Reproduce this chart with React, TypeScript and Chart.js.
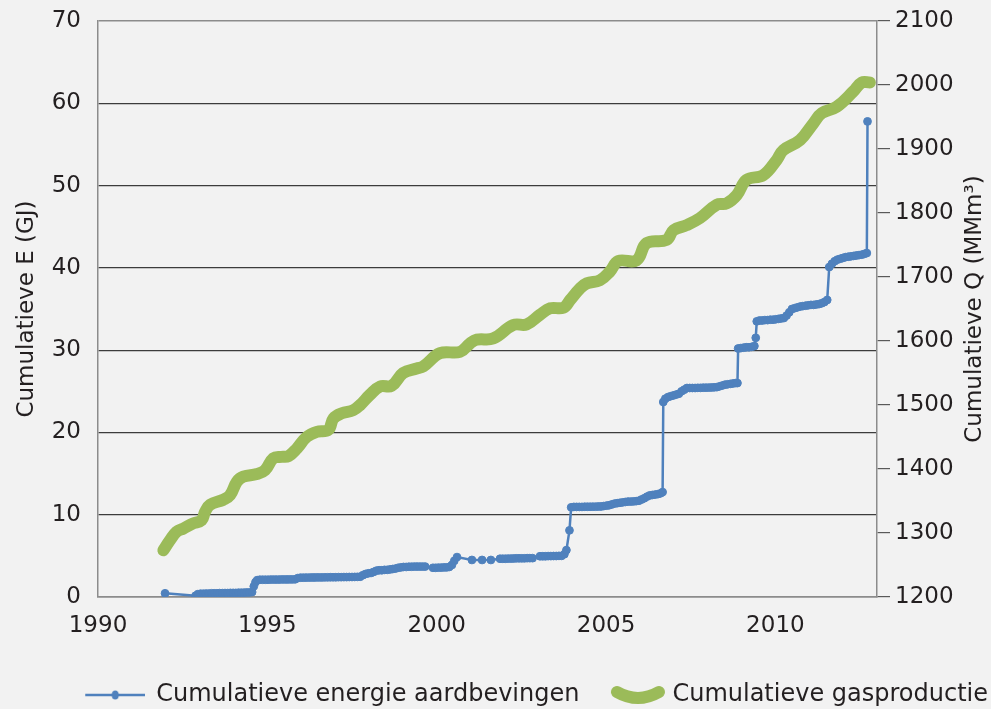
import React, { useEffect, useRef } from 'react';
import { Chart, registerables } from 'chart.js';

Chart.register(...registerables);

// ---- data ----
const gasYears = [
  1991.93, 1992.13, 1992.32, 1992.52, 1992.81, 1993.06, 1993.16, 1993.31, 1993.70, 1993.90,
  1994.10, 1994.29, 1994.69, 1994.93, 1995.18, 1995.42, 1995.62, 1995.87, 1996.16, 1996.46,
  1996.80, 1996.95, 1997.20, 1997.54, 1997.74, 1998.03, 1998.33, 1998.67, 1999.01, 1999.41,
  1999.60, 2000.10, 2000.69, 2000.98, 2001.18, 2001.67, 2002.26, 2002.66, 2003.05, 2003.35,
  2003.74, 2003.94, 2004.23, 2004.43, 2004.82, 2005.12, 2005.36, 2005.90, 2006.20, 2006.79,
  2006.99, 2007.38, 2007.77, 2008.27, 2008.56, 2008.86, 2009.15, 2009.64, 2010.04, 2010.23,
  2010.73, 2011.12, 2011.37, 2011.81, 2012.30, 2012.55, 2012.79,
];
const gasValues = [
  1273, 1289, 1302, 1307, 1315, 1320, 1333, 1344, 1352, 1359,
  1380, 1388, 1392, 1398, 1417, 1419, 1420, 1432, 1450, 1458,
  1461, 1479, 1487, 1492, 1500, 1516, 1529, 1530, 1550, 1557,
  1560, 1581, 1583, 1596, 1602, 1604, 1625, 1626, 1641, 1651,
  1652, 1664, 1682, 1690, 1695, 1709, 1725, 1726, 1753, 1758,
  1773, 1781, 1792, 1813, 1815, 1828, 1852, 1859, 1883, 1898,
  1914, 1940, 1956, 1966, 1990, 2004, 2004,
];

const quakeYears = [
  1991.98, 1992.88, 1992.95, 1993.03, 1993.11, 1993.19, 1993.27, 1993.35, 1993.43, 1993.51,
  1993.59, 1993.67, 1993.75, 1993.83, 1993.91, 1993.99, 1994.07, 1994.15, 1994.23, 1994.31,
  1994.39, 1994.47, 1994.55, 1994.60, 1994.65, 1994.70, 1994.78, 1994.86, 1994.94, 1995.02,
  1995.10, 1995.18, 1995.26, 1995.34, 1995.42, 1995.50, 1995.58, 1995.66, 1995.74, 1995.82,
  1995.90, 1995.98, 1996.06, 1996.14, 1996.22, 1996.30, 1996.38, 1996.46, 1996.54, 1996.62,
  1996.70, 1996.78, 1996.86, 1996.94, 1997.02, 1997.10, 1997.18, 1997.26, 1997.34, 1997.42,
  1997.50, 1997.58, 1997.66, 1997.74, 1997.82, 1997.90, 1997.98, 1998.06, 1998.14, 1998.22,
  1998.30, 1998.38, 1998.46, 1998.54, 1998.62, 1998.70, 1998.78, 1998.86, 1998.94, 1999.02,
  1999.10, 1999.18, 1999.26, 1999.34, 1999.42, 1999.50, 1999.58, 1999.66, 1999.89, 1999.97,
  2000.05, 2000.13, 2000.21, 2000.29, 2000.37, 2000.45, 2000.52, 2000.60, 2001.04, 2001.34,
  2001.60, 2001.87, 2001.95, 2002.03, 2002.11, 2002.19, 2002.27, 2002.35, 2002.43, 2002.51,
  2002.59, 2002.67, 2002.75, 2002.83, 2003.05, 2003.13, 2003.21, 2003.29, 2003.37, 2003.45,
  2003.53, 2003.61, 2003.69, 2003.77, 2003.83, 2003.92, 2003.97, 2004.05, 2004.13, 2004.21,
  2004.29, 2004.37, 2004.45, 2004.53, 2004.61, 2004.69, 2004.77, 2004.85, 2004.93, 2005.01,
  2005.09, 2005.17, 2005.25, 2005.33, 2005.41, 2005.49, 2005.57, 2005.65, 2005.73, 2005.81,
  2005.89, 2005.97, 2006.05, 2006.13, 2006.21, 2006.29, 2006.37, 2006.45, 2006.53, 2006.61,
  2006.67, 2006.69, 2006.75, 2006.83, 2006.91, 2006.99, 2007.07, 2007.15, 2007.23, 2007.31,
  2007.39, 2007.47, 2007.55, 2007.63, 2007.71, 2007.79, 2007.87, 2007.95, 2008.03, 2008.11,
  2008.19, 2008.27, 2008.35, 2008.43, 2008.51, 2008.59, 2008.67, 2008.75, 2008.83, 2008.88,
  2008.90, 2008.98, 2009.06, 2009.14, 2009.22, 2009.30, 2009.38, 2009.42, 2009.45, 2009.53,
  2009.61, 2009.69, 2009.77, 2009.85, 2009.93, 2010.01, 2010.09, 2010.17, 2010.25, 2010.33,
  2010.41, 2010.49, 2010.57, 2010.65, 2010.73, 2010.81, 2010.89, 2010.97, 2011.05, 2011.13,
  2011.21, 2011.29, 2011.37, 2011.45, 2011.53, 2011.59, 2011.67, 2011.75, 2011.83, 2011.91,
  2011.99, 2012.07, 2012.15, 2012.23, 2012.31, 2012.39, 2012.47, 2012.55, 2012.63, 2012.70,
  2012.72,
];
const quakeEnergy = [
  0.45, 0.15, 0.35, 0.40, 0.40, 0.42, 0.42, 0.45, 0.45, 0.45,
  0.47, 0.47, 0.48, 0.48, 0.50, 0.50, 0.50, 0.52, 0.52, 0.53,
  0.55, 0.55, 0.60, 1.30, 1.80, 2.05, 2.10, 2.10, 2.10, 2.10,
  2.12, 2.12, 2.12, 2.12, 2.13, 2.13, 2.13, 2.14, 2.14, 2.15,
  2.30, 2.35, 2.35, 2.36, 2.36, 2.37, 2.37, 2.38, 2.38, 2.38,
  2.39, 2.39, 2.40, 2.40, 2.40, 2.41, 2.41, 2.42, 2.42, 2.43,
  2.43, 2.44, 2.45, 2.46, 2.65, 2.80, 2.88, 2.92, 3.05, 3.20,
  3.25, 3.25, 3.30, 3.30, 3.35, 3.40, 3.45, 3.55, 3.60, 3.65,
  3.65, 3.68, 3.68, 3.70, 3.70, 3.70, 3.70, 3.70, 3.55, 3.55,
  3.57, 3.57, 3.60, 3.60, 3.65, 3.90, 4.40, 4.85, 4.50, 4.50,
  4.50, 4.65, 4.65, 4.65, 4.67, 4.67, 4.68, 4.70, 4.70, 4.70,
  4.70, 4.72, 4.72, 4.72, 4.95, 4.95, 4.95, 4.97, 4.97, 4.98,
  4.98, 5.00, 5.00, 5.20, 5.70, 8.10, 10.90, 10.95, 10.95, 10.95,
  10.95, 10.97, 10.97, 10.97, 10.98, 10.98, 11.00, 11.00, 11.05, 11.10,
  11.15, 11.25, 11.35, 11.40, 11.45, 11.50, 11.55, 11.60, 11.60, 11.62,
  11.65, 11.70, 11.85, 12.00, 12.20, 12.35, 12.40, 12.45, 12.50, 12.60,
  12.75, 23.70, 24.10, 24.30, 24.40, 24.50, 24.60, 24.70, 25.00, 25.20,
  25.40, 25.40, 25.40, 25.40, 25.42, 25.42, 25.44, 25.44, 25.45, 25.46,
  25.48, 25.50, 25.60, 25.70, 25.80, 25.85, 25.90, 25.95, 26.00, 26.00,
  30.20, 30.25, 30.30, 30.35, 30.35, 30.40, 30.50, 31.50, 33.50, 33.60,
  33.60, 33.65, 33.65, 33.70, 33.70, 33.75, 33.80, 33.85, 33.90, 34.20,
  34.60, 35.00, 35.10, 35.20, 35.30, 35.35, 35.40, 35.45, 35.50, 35.50,
  35.55, 35.60, 35.70, 35.85, 36.10, 40.10, 40.50, 40.80, 41.00, 41.10,
  41.20, 41.30, 41.35, 41.40, 41.45, 41.50, 41.55, 41.60, 41.70, 41.80,
  57.80,
];

const xTickValues = [1990, 1995, 2000, 2005, 2010];
const seriesNames = ['Cumulatieve energie aardbevingen', 'Cumulatieve gasproductie'];
const leftTitle = 'Cumulatieve E (GJ)';
const rightTitle = 'Cumulatieve Q (MMm\u00B3)';

// ---- style ----
const FONT = "'DejaVu Sans', Verdana, sans-serif";
const FS = 23;
const LFS = 24;
const TEXT = '#231f20';
const BLUE = '#4f81bd';
const GREEN = '#9bbb59';
const FRAME = '#8c8c8c';
const GRID = '#3c3c3c';
const BG = '#f2f2f2';

function makeSymbol(w: number, h: number, offset: number, draw: (c: CanvasRenderingContext2D) => void) {
  const c = document.createElement('canvas');
  c.width = w + 2 * Math.abs(offset);
  c.height = h;
  const ctx = c.getContext('2d')!;
  ctx.translate(offset > 0 ? 2 * offset : 0, 0);
  draw(ctx);
  return c;
}

const rightTitlePlugin = {
  id: 'rightTitle',
  afterDraw(chart: any) {
    const { ctx, chartArea } = chart;
    const sc = chart.scales.y2;
    ctx.save();
    ctx.translate(sc.right - 16, (chartArea.top + chartArea.bottom) / 2);
    ctx.rotate(-Math.PI / 2);
    ctx.font = `${FS}px ${FONT}`;
    ctx.fillStyle = TEXT;
    ctx.textAlign = 'center';
    ctx.textBaseline = 'middle';
    ctx.fillText(rightTitle, 0, 0);
    ctx.restore();
  },
};

export default function App() {
  const ref = useRef<HTMLCanvasElement>(null);

  useEffect(() => {
    document.body.style.margin = '0';
    document.body.style.background = BG;
    const blueSym = makeSymbol(60, 14, 10, (c) => {
      c.strokeStyle = BLUE;
      c.lineWidth = 2.5;
      c.beginPath();
      c.moveTo(0, 7);
      c.lineTo(60, 7);
      c.stroke();
      c.fillStyle = BLUE;
      c.beginPath();
      c.ellipse(30, 7, 3.5, 4.5, 0, 0, Math.PI * 2);
      c.fill();
    });
    const greenSym = makeSymbol(56, 26, 16.5, (c) => {
      c.strokeStyle = GREEN;
      c.lineWidth = 12;
      c.lineCap = 'round';
      c.lineJoin = 'round';
      c.beginPath();
      c.moveTo(7, 10);
      c.quadraticCurveTo(28, 22, 49, 10);
      c.stroke();
    });
    const syms = [blueSym, greenSym];

    const noPad = (s: any) => {
      s.paddingTop = 0;
      s.paddingBottom = 0;
    };

    const chart = new Chart(ref.current!, {
      type: 'line',
      data: {
        datasets: [
          {
            label: seriesNames[0],
            data: quakeYears.map((x, i) => ({ x, y: quakeEnergy[i] })),
            yAxisID: 'y',
            borderColor: BLUE,
            backgroundColor: BLUE,
            borderWidth: 2.5,
            pointRadius: 3.9,
            pointBorderWidth: 1,
            pointStyle: 'circle',
            tension: 0,
            order: 2,
          },
          {
            label: seriesNames[1],
            data: gasYears.map((x, i) => ({ x, y: gasValues[i] })),
            yAxisID: 'y2',
            borderColor: GREEN,
            backgroundColor: GREEN,
            borderWidth: 12,
            pointRadius: 0,
            tension: 0.4,
            borderCapStyle: 'round',
            borderJoinStyle: 'round',
            order: 1,
          },
        ],
      },
      options: {
        animation: false,
        responsive: false,
        devicePixelRatio: 1,
        layout: { padding: { top: 21, left: 0, right: 0, bottom: -8 } },
        plugins: {
          tooltip: { enabled: false },
          legend: {
            position: 'bottom',
            align: 'end',
            labels: {
              usePointStyle: true,
              pointStyleWidth: 78,
              padding: 3,
              color: TEXT,
              font: { family: FONT, size: LFS },
              generateLabels: () =>
                seriesNames.map((name, i) => ({
                  text: name,
                  pointStyle: syms[i] as any,
                  fillStyle: 'transparent',
                  strokeStyle: 'transparent',
                  lineWidth: 0,
                  hidden: false,
                  datasetIndex: i,
                  fontColor: TEXT,
                })),
            },
          },
        },
        scales: {
          x: {
            type: 'linear',
            position: 'bottom',
            min: 1990,
            max: 2013,
            afterBuildTicks: (s: any) => {
              s.ticks = xTickValues.map((v) => ({ value: v }));
            },
            afterFit: (s: any) => {
              s.height = 83;
              s.paddingLeft = 0;
              s.paddingRight = 0;
            },
            grid: { display: true, drawOnChartArea: false, drawTicks: false },
            border: { color: FRAME, width: 1.5 },
            ticks: {
              color: TEXT,
              font: { family: FONT, size: FS },
              padding: 15,
              maxRotation: 0,
              callback: (v: any) => String(v),
            },
          },
          y: {
            type: 'linear',
            position: 'left',
            min: 0,
            max: 70,
            afterFit: (s: any) => {
              s.width = 98;
              noPad(s);
            },
            grid: {
              drawTicks: false,
              color: (c: any) => (c.tick && (c.tick.value === 0 || c.tick.value === 70) ? FRAME : GRID),
              lineWidth: (c: any) => (c.tick && (c.tick.value === 0 || c.tick.value === 70) ? 1.5 : 1.2),
            },
            border: { color: FRAME, width: 1.5 },
            ticks: {
              stepSize: 10,
              color: TEXT,
              font: { family: FONT, size: FS },
              padding: 17,
              callback: (v: any) => String(v),
            },
            title: {
              display: true,
              text: leftTitle,
              color: TEXT,
              font: { family: FONT, size: FS },
              padding: { top: 13, bottom: 0 },
            },
          },
          y2: {
            type: 'linear',
            position: 'right',
            min: 1200,
            max: 2100,
            afterFit: (s: any) => {
              s.width = 114;
              noPad(s);
            },
            grid: { drawOnChartArea: false, drawTicks: true, tickLength: 13, color: '#595959', lineWidth: 1.2 },
            border: { color: FRAME, width: 1.5 },
            ticks: {
              stepSize: 100,
              color: TEXT,
              font: { family: FONT, size: FS },
              padding: 5,
              callback: (v: any) => String(v),
            },
          },
        },
      },
      plugins: [rightTitlePlugin],
    } as any);
    return () => chart.destroy();
  }, []);

  return (
    <div style={{ width: 991, height: 709, background: BG, position: 'relative' }}>
      <canvas ref={ref} width={991} height={709} style={{ display: 'block' }} />
    </div>
  );
}
